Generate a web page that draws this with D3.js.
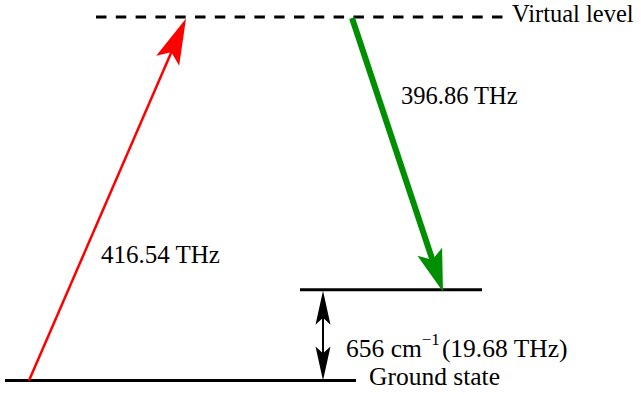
<!DOCTYPE html>
<html>
<head>
<meta charset="utf-8">
<script src="https://cdn.jsdelivr.net/npm/d3@7"></script>
</head>
<body style="margin:0">
<svg id="chart" width="641" height="395"></svg>
<script>
// Raman scattering energy-level diagram.

// Energy levels (schematic heights: not to scale)
const levelNames = ["Ground state", "", "Virtual level"];
const levelHeights = [0, 1, 4];

// Transition frequencies
const pumpTHz = 416.54;     // excitation photon
const stokesTHz = 396.86;   // scattered (Stokes) photon
const shiftTHz = 19.68;     // vibrational spacing
const shiftCm = 656;        // same spacing in wavenumbers

const W = 641, H = 395;
const svg = d3.select("#chart");

const y = d3.scaleLinear().domain([0, 4]).range([380.5, 17]);
const x = d3.scaleLinear().domain([0, W]).range([0, W]);

// horizontal extents of each level line
const levelSpan = [[5, 356], [300, 482], [96, 503]];

// level lines
levelHeights.forEach((h, i) => {
  const [a, b] = levelSpan[i];
  const line = svg.append("line")
    .attr("x1", x(a)).attr("x2", x(b))
    .attr("y1", y(h)).attr("y2", y(h))
    .attr("stroke", "#000")
    .attr("stroke-width", 3);
  if (i === 2) line.attr("stroke-dasharray", "10.5,9.3");
});

// notched ("stealth") arrow head polygon
function arrowHead(tip, from, len, half, notch) {
  const dx = from[0] - tip[0], dy = from[1] - tip[1];
  const L = Math.hypot(dx, dy);
  const ux = dx / L, uy = dy / L;     // from tip back along shaft
  const px = -uy, py = ux;            // perpendicular
  const bx = tip[0] + ux * len, by = tip[1] + uy * len;
  const nx = tip[0] + ux * len * notch, ny = tip[1] + uy * len * notch;
  return [
    [tip[0], tip[1]],
    [bx + px * half, by + py * half],
    [nx, ny],
    [bx - px * half, by - py * half]
  ];
}

function drawArrow(p0, p1, color, width, len, half, both) {
  const dx = p1[0] - p0[0], dy = p1[1] - p0[1];
  const L = Math.hypot(dx, dy);
  const ux = dx / L, uy = dy / L;
  const inset = len * 0.7;
  const s0 = both ? [p0[0] + ux * inset, p0[1] + uy * inset] : p0;
  const s1 = [p1[0] - ux * inset, p1[1] - uy * inset];
  svg.append("line")
    .attr("x1", s0[0]).attr("y1", s0[1])
    .attr("x2", s1[0]).attr("y2", s1[1])
    .attr("stroke", color).attr("stroke-width", width);
  const heads = [arrowHead(p1, p0, len, half, 0.8)];
  if (both) heads.push(arrowHead(p0, p1, len, half, 0.8));
  heads.forEach(pts => {
    svg.append("path")
      .attr("d", d3.line()(pts) + "Z")
      .attr("fill", color);
  });
}

// excitation (pump) photon: ground -> virtual
drawArrow([x(29), y(levelHeights[0])], [x(186), y(levelHeights[2]) + 1.5],
  "#ff0000", 2.5, 46, 12.5, false);

// scattered (Stokes) photon: virtual -> vibrational
drawArrow([x(352), y(levelHeights[2]) + 1], [x(443), y(levelHeights[1]) + 2],
  "#008f00", 6, 42, 13, false);

// vibrational spacing
drawArrow([x(323), y(levelHeights[0])], [x(323), y(levelHeights[1]) + 1],
  "#000", 2, 34, 7.5, true);

// labels
const labels = [
  { x: 512, y: 22,  size: 24.5, text: levelNames[2] },
  { x: 369, y: 385, size: 25.5, text: levelNames[0] },
  { x: 401, y: 104, size: 24.5, text: `${stokesTHz.toFixed(2)} THz` },
  { x: 101, y: 263, size: 25,   text: `${pumpTHz.toFixed(2)} THz` }
];
svg.selectAll("text.lbl").data(labels).join("text")
  .attr("class", "lbl")
  .attr("x", d => d.x).attr("y", d => d.y)
  .attr("font-size", d => d.size)
  .style("font-family", '"Liberation Serif"')
  .text(d => d.text);

const shift = svg.append("text")
  .attr("x", 346).attr("y", 357)
  .attr("font-size", 25.5)
  .style("font-family", '"Liberation Serif"');
shift.append("tspan").text(`${shiftCm} cm`);
shift.append("tspan").attr("dy", -12).attr("font-size", 17).text("\u22121");
shift.append("tspan").attr("dy", 12).attr("dx", 2).text(`(${shiftTHz.toFixed(2)} THz)`);
</script>
</body>
</html>
